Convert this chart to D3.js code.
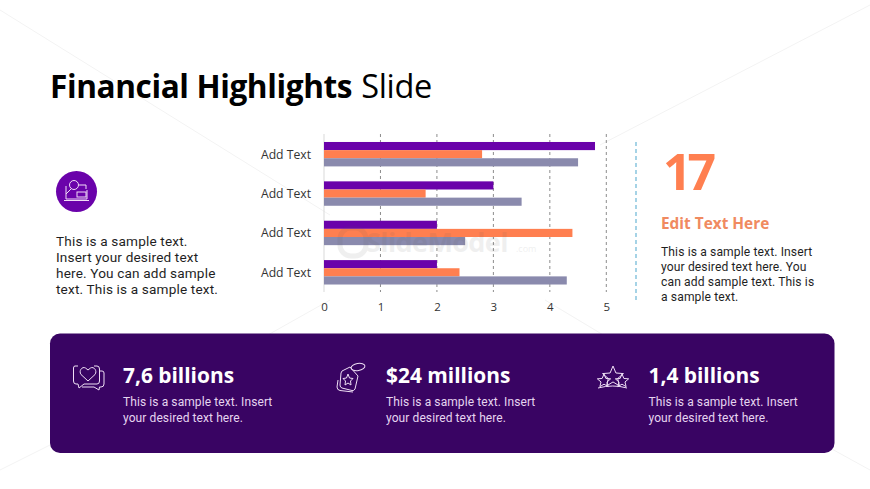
<!DOCTYPE html>
<html><head><meta charset="utf-8">
<script src="https://cdn.jsdelivr.net/npm/d3@7"></script>
<style>html,body{margin:0;padding:0;background:#fff}svg{display:block}text{font-family:"Open Sans","Noto Sans",sans-serif}text.body{font-family:Roboto,"Open Sans",sans-serif}</style>
</head><body><svg id="c" width="870" height="489"></svg>
<script>
const categories = ["Add Text","Add Text","Add Text","Add Text"];
const seriesNames = ["Series 1","Series 2","Series 3"];
const series1 = [4.8,3,2,2];
const series2 = [2.8,1.8,4.4,2.4];
const series3 = [4.5,3.5,2.5,4.3];
const xTicks = [0,1,2,3,4,5];
const seriesColors = ["#6a02aa","#ff7f50","#8a8aad"];
const leftLines = ["This is a sample text.","Insert your desired text","here. You can add sample","text. This is a sample text."];
const rightLines = ["This is a sample text. Insert","your desired text here. You","can add sample text. This is","a sample text."];
const stats = ["7,6 billions","$24 millions","1,4 billions"];
const statLines = ["This is a sample text. Insert","your desired text here."];

const svg = d3.select("#c");
const ink = "#1f1f1f";

// faint background decoration
const deco = svg.append("g").attr("stroke","#f3f3f3").attr("stroke-width",1).attr("fill","none");
[["M0 10L330 215","M0 470L60 440","M870 5L600 145","M870 470L770 415","M250 345L330 300","M545 300L620 345"]][0]
  .forEach(d=>deco.append("path").attr("d",d));

// title
const title = svg.append("text").attr("x",50).attr("y",98).attr("font-size",31.6).attr("fill","#000");
title.append("tspan").attr("font-weight",700).attr("letter-spacing",-0.4).text("Financial Highlights");
title.append("tspan").attr("font-weight",400).attr("dx",9).attr("font-size",32.5).attr("letter-spacing",-0.3).text("Slide");

// chart
const x = d3.scaleLinear().domain([0,5]).range([324,606.3]);
const y = d3.scaleBand().domain(d3.range(categories.length)).range([134.5,292]).paddingInner(0.38).paddingOuter(0.19);
const yi = d3.scaleBand().domain(d3.range(3)).range([0,y.bandwidth()]);
const chart = svg.append("g");
const xAxis = d3.axisBottom(x).tickValues(xTicks).tickSize(0).tickPadding(0).tickFormat(d3.format("d"));
const ax = chart.append("g").attr("transform","translate(0,303)").call(xAxis);
ax.select(".domain").remove();
ax.selectAll("text").attr("font-size",11.5).attr("fill","#333").attr("dy","0.71em");
chart.append("g").selectAll("line").data(xTicks).join("line")
  .attr("x1",d=>x(d)).attr("x2",d=>x(d)).attr("y1",134).attr("y2",292)
  .attr("stroke",d=>d===0?"#d9d9d9":"#8c8c8c").attr("stroke-width",1)
  .attr("stroke-dasharray",d=>d===0?null:"3 3");
[series1,series2,series3].forEach((vals,s)=>{
  chart.append("g").selectAll("rect").data(vals).join("rect")
    .attr("x",x(0)).attr("y",(d,i)=>y(i)+yi(s))
    .attr("width",d=>x(d)-x(0)).attr("height",yi.bandwidth())
    .attr("fill",seriesColors[s]);
});
chart.append("g").selectAll("text").data(categories).join("text")
  .attr("x",311).attr("y",(d,i)=>y(i)+y.bandwidth()/2+4.5)
  .attr("text-anchor","end").attr("font-size",12.2).attr("fill","#333").text(d=>d);

// watermark
const wm = svg.append("g").attr("opacity",0.09);
wm.append("text").attr("x",366).attr("y",252).attr("font-size",27).attr("font-weight",700).attr("fill","#555").attr("letter-spacing",-0.6).text("SlideModel");
wm.append("text").attr("x",516).attr("y",252).attr("font-size",9).attr("fill","#555").text(".com");
wm.append("rect").attr("x",340).attr("y",228).attr("width",26).attr("height",28).attr("rx",11).attr("fill","none").attr("stroke","#555").attr("stroke-width",5);

// left block
svg.append("circle").attr("cx",76.5).attr("cy",191.5).attr("r",20.5).attr("fill","#6a02aa");
const ic = svg.append("g").attr("fill","none").attr("stroke","#f1dcf7").attr("stroke-width",1);
ic.append("path").attr("d","M66 186V199H87V190M64 200.5H89");
ic.append("circle").attr("cx",74).attr("cy",185).attr("r",4.5);
ic.append("path").attr("d","M71 189L66 194");
ic.append("rect").attr("x",77).attr("y",192).attr("width",9).attr("height",5);
ic.append("path").attr("d","M79 185H86V189");
svg.append("g").selectAll("text").data(leftLines).join("text").attr("class","body")
  .attr("x",56).attr("y",(d,i)=>245.5+i*16.1).attr("font-size",13.6).attr("letter-spacing",0.16).attr("fill",ink).text(d=>d);

// right block
svg.append("line").attr("x1",636).attr("x2",636).attr("y1",142).attr("y2",302)
  .attr("stroke","#6bb6d6").attr("stroke-width",1.2).attr("stroke-dasharray","4 3");
svg.append("text").attr("x",663).attr("y",190).attr("font-size",50).attr("font-weight",700).attr("letter-spacing",-4).attr("fill","#ff7f50").text("17");
svg.append("text").attr("x",661).attr("y",229).attr("font-size",15.4).attr("font-weight",700).attr("fill","#f08a60").text("Edit Text Here");
svg.append("g").selectAll("text").data(rightLines).join("text").attr("class","body")
  .attr("x",661).attr("y",(d,i)=>256+i*15).attr("font-size",12.1).attr("letter-spacing",0.12).attr("fill",ink).text(d=>d);

// banner
svg.append("rect").attr("x",50).attr("y",333.5).attr("width",784.5).attr("height",119.5).attr("rx",10).attr("fill","#390463");
const colX = [123,386,648.5];
const gs = svg.append("g").selectAll("g").data(stats).join("g").attr("transform",(d,i)=>`translate(${colX[i]},0)`);
gs.append("text").attr("y",383).attr("font-size",20.9).attr("font-weight",700).attr("fill","#fff").text(d=>d);
statLines.forEach((l,k)=>{
  gs.append("text").attr("class","body").attr("y",406+k*15.6).attr("font-size",12).attr("letter-spacing",0.09).attr("fill","#e6d5f0").text(l);
});
const st = {fill:"none",stroke:"#efdff5","stroke-width":1};
const ig = svg.append("g").attr("fill",st.fill).attr("stroke",st.stroke).attr("stroke-width",st["stroke-width"]).attr("stroke-linejoin","round");
// speech bubbles with heart
ig.append("path").attr("d","M78 366H75Q73.500 366 73.500 368V381Q73.500 384 76 384H78L79 388L84 384H97Q99.500 384 99.500 381V369Q99.500 366 97 366H94 ");
ig.append("path").attr("d","M99 371H102Q104 371 104 373V384Q104 387 101 387H99.500L99 390L94 387H82");
ig.append("path").attr("d","M88 381L81 374.500C78.500 371 82 366 85.500 368L88 370L90.500 368C94 366 97.500 371 95 374.500Z");
// tag with star
ig.append("path").attr("d","M342 371L350 367L358 376L355 389Q354 391 352 390.500L342 388Q340 387.500 340 385L341 373Z");
ig.append("path").attr("d","M338 380L337 387Q337 390 340 390.500L353 392");
ig.append("ellipse").attr("cx",358).attr("cy",367).attr("rx",7).attr("ry",3.500).attr("transform","rotate(-10 358 367)");
ig.append("path").attr("d","M348 374L349.500 378L353 378.500L350.500 381L351 385L348 383L345 385L345.500 381L343 378.500L346.500 378Z");
// stars
function star(cx,cy,r){const p=d3.range(10).map(i=>{const a=-Math.PI/2+i*Math.PI/5,q=i%2?r*0.45:r;return [cx+q*Math.cos(a),cy+q*Math.sin(a)];});return d3.line()(p)+"Z";}
ig.append("path").attr("d",star(613,377,11));
ig.append("path").attr("d",star(604,381,7));
ig.append("path").attr("d",star(622,381,7));
ig.append("path").attr("d","M598 388Q613 384 627 388");
</script></body></html>
